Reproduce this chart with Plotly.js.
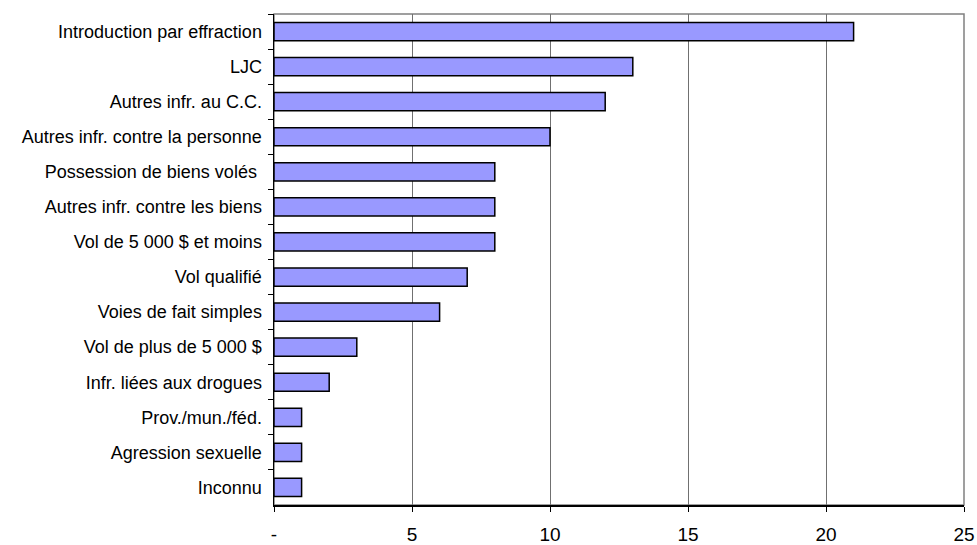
<!DOCTYPE html>
<html>
<head>
<meta charset="utf-8">
<script src="https://cdn.plot.ly/plotly-3.0.1.min.js"></script>
<style>
  html, body { margin: 0; padding: 0; background: #ffffff; }
  #chart { width: 977px; height: 545px; }
</style>
</head>
<body>
<div id="chart"></div>
<script>
// Infractions (nombre), du plus fréquent au moins fréquent
const categories = [
  "Introduction par effraction",
  "LJC",
  "Autres infr. au C.C.",
  "Autres infr. contre la personne",
  "Possession de biens volés ",
  "Autres infr. contre les biens",
  "Vol de 5 000 $ et moins",
  "Vol qualifié",
  "Voies de fait simples",
  "Vol de plus de 5 000 $",
  "Infr. liées aux drogues",
  "Prov./mun./féd.",
  "Agression sexuelle",
  "Inconnu"
];
const counts = [21, 13, 12, 10, 8, 8, 8, 7, 6, 3, 2, 1, 1, 1];

const xTickVals = [0, 5, 10, 15, 20, 25];
const xTickText = ["-", "5", "10", "15", "20", "25"];

const FONT = "Liberation Sans, Arial, sans-serif";

const trace = {
  type: "bar",
  orientation: "h",
  y: categories,
  x: counts,
  marker: { color: "#9999FF", line: { color: "#000000", width: 1.5 } },
  hoverinfo: "x+y"
};

const layout = {
  width: 977,
  height: 545,
  margin: { l: 274, r: 13, t: 14, b: 40 },
  paper_bgcolor: "#ffffff",
  plot_bgcolor: "#ffffff",
  bargap: 0.48,
  showlegend: false,
  font: { family: FONT, size: 18, color: "#000000" },
  xaxis: {
    range: [0, 25],
    tickvals: xTickVals,
    ticktext: xTickText,
    showgrid: true,
    gridcolor: "#707070",
    gridwidth: 1,
    zeroline: false,
    showline: true,
    linecolor: "#000000",
    linewidth: 1.5,
    ticks: "outside",
    ticklen: 5,
    tickcolor: "#000000",
    tickwidth: 1,
    ticklabelstandoff: 7,
    tickfont: { family: FONT, size: 19, color: "#000000" },
    fixedrange: true
  },
  yaxis: {
    type: "category",
    autorange: "reversed",
    tickson: "boundaries",
    showgrid: false,
    zeroline: false,
    showline: true,
    linecolor: "#000000",
    linewidth: 1.5,
    ticks: "outside",
    ticklen: 5,
    tickcolor: "#000000",
    tickwidth: 1,
    ticklabelstandoff: 7,
    tickfont: { family: FONT, size: 18, color: "#000000" },
    fixedrange: true
  },
  shapes: [
    {
      type: "rect", xref: "paper", yref: "paper",
      x0: 0, x1: 1, y0: 0, y1: 1,
      line: { color: "#808080", width: 1.5 },
      layer: "below"
    }
  ]
};

Plotly.newPlot("chart", [trace], layout, { displayModeBar: false, staticPlot: true });
</script>
</body>
</html>
